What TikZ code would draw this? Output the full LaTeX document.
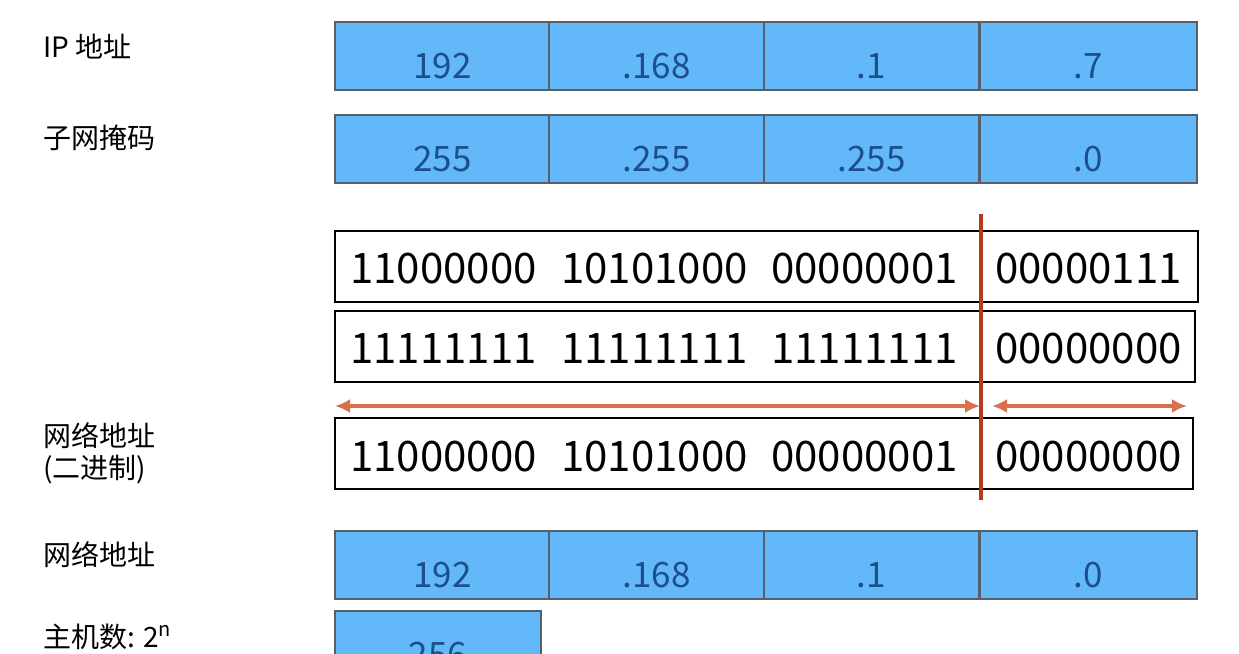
\documentclass[tikz,border=0pt]{standalone}
\usepackage{fontspec}
\setmainfont{Noto Sans CJK SC}
\usetikzlibrary{arrows.meta,positioning}
\definecolor{cellblue}{HTML}{62B8F8}
\definecolor{cellline}{HTML}{56606B}
\definecolor{celltext}{HTML}{1C4F8C}
\definecolor{cutred}{HTML}{B5391A}
\definecolor{spanarrow}{HTML}{D8704E}

\begin{document}
\begin{tikzpicture}[x=1pt,y=-1pt]
  \tikzstyle{cell}=[rectangle, draw=cellline, line width=2pt, fill=cellblue, anchor=north west, minimum width=215pt, minimum height=68pt, inner sep=0pt, text=celltext, font=\fontsize{35}{35}\selectfont, text height=44pt, text depth=0pt]
  \tikzstyle{bitrow}=[rectangle, draw, line width=2pt, anchor=north west, minimum height=71pt, inner sep=0pt]
  \tikzstyle{bits}=[anchor=base west, inner sep=0pt, font=\fontsize{42}{42}\selectfont]
  \tikzstyle{caption}=[anchor=west, inner sep=0pt, align=left, font=\fontsize{28}{32}\selectfont]
  \tikzstyle{span}=[{Latex[length=15pt,width=14pt]}-{Latex[length=15pt,width=14pt]}, line width=3.5pt, spanarrow]

  \useasboundingbox (0,0) rectangle (1239,653);
  \clip (0,0) rectangle (1239,653);
  \fill[white] (0,0) rectangle (1239,653);

  % left captions
  \node[caption] (iplabel) at (43,47) {IP 地址};
  \node[caption] (masklabel) at (43,138) {子网掩码};
  \node[caption] (binlabel) at (43,453) {网络地址\\(二进制)};
  \node[caption] (netlabel) at (43,555) {网络地址};
  \node[caption] (hostlabel) at (43,637) {主机数: 2\raisebox{11pt}{\fontsize{20}{20}\selectfont\textit{n}}};

  % dotted decimal rows
  \node[cell] (ip1) at (334,21) {192};
  \node[cell] (ip2) at (548,21) {.168};
  \node[cell] (ip3) at (763,21) {.1};
  \node[cell, minimum width=217pt] (ip4) at (979,21) {.7};

  \node[cell] (mask1) at (334,114) {255};
  \node[cell] (mask2) at (548,114) {.255};
  \node[cell] (mask3) at (763,114) {.255};
  \node[cell, minimum width=217pt] (mask4) at (979,114) {.0};

  % binary rows
  \node[bitrow, minimum width=863pt] (ipbin) at (334,230) {};
  \node[bits] (ipbinA) at (350,283) {11000000};
  \node[bits] (ipbinB) at (561,283) {10101000};
  \node[bits] (ipbinC) at (771,283) {00000001};
  \node[bits] (ipbinD) at (995,283) {00000111};

  \node[bitrow, minimum width=860pt] (maskbin) at (334,310) {};
  \node[bits] (maskbinA) at (350,363) {11111111};
  \node[bits] (maskbinB) at (561,363) {11111111};
  \node[bits] (maskbinC) at (771,363) {11111111};
  \node[bits] (maskbinD) at (995,363) {00000000};

  \node[bitrow, minimum width=858pt] (netbin) at (334,417) {};
  \node[bits] (netbinA) at (350,471) {11000000};
  \node[bits] (netbinB) at (561,471) {10101000};
  \node[bits] (netbinC) at (771,471) {00000001};
  \node[bits] (netbinD) at (995,471) {00000000};

  % network / host split
  \coordinate (cuttop) at (981,214);
  \coordinate (cutbottom) at (981,500);
  \draw[cutred, line width=3.5pt] (cuttop) -- (cutbottom);

  \coordinate (netleft) at (335,406);
  \coordinate (netright) at (980,406);
  \coordinate (hostleft) at (992,406);
  \coordinate (hostright) at (1187,406);
  \draw[span] (netleft) -- (netright);
  \draw[span] (hostleft) -- (hostright);

  % network address and host count
  \node[cell] (net1) at (334,530) {192};
  \node[cell] (net2) at (548,530) {.168};
  \node[cell] (net3) at (763,530) {.1};
  \node[cell, minimum width=217pt] (net4) at (979,530) {.0};

  \node[cell, minimum width=206pt] (hosts) at (334,610) {256};
\end{tikzpicture}
\end{document}
